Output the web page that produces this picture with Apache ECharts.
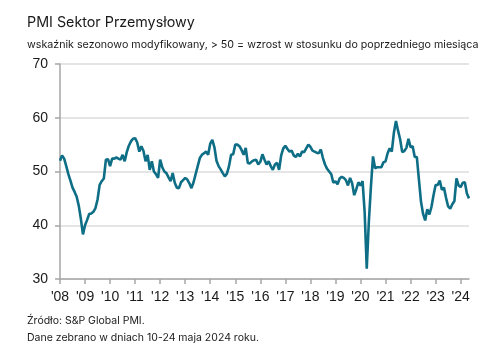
<!DOCTYPE html>
<html>
<head>
<meta charset="utf-8">
<script src="https://cdn.jsdelivr.net/npm/echarts@6/dist/echarts.min.js"></script>
<style>
  html, body { margin: 0; padding: 0; background: #fff; }
  #chart { width: 500px; height: 352px; }
</style>
</head>
<body>
<div id="chart"></div>
<script>
// PMI values, one array per year (Jan..Dec)
var pmi2008 = [52.0, 53.0, 52.4, 51.0, 49.5, 48.3, 47.0, 46.2, 45.3, 43.6, 41.2, 38.3];
var pmi2009 = [40.0, 41.0, 42.1, 42.2, 42.5, 43.2, 44.8, 47.5, 48.2, 48.7, 52.2, 52.3];
var pmi2010 = [51.0, 52.4, 52.4, 52.6, 52.4, 52.2, 53.1, 51.9, 53.6, 54.8, 55.6, 56.1];
var pmi2011 = [56.2, 55.4, 53.7, 54.7, 53.8, 51.9, 53.1, 50.3, 51.9, 50.0, 49.5, 48.8];
var pmi2012 = [52.2, 50.8, 50.0, 49.7, 48.9, 48.2, 49.7, 47.9, 47.0, 46.9, 48.0, 48.4];
var pmi2013 = [48.8, 48.5, 47.8, 46.9, 48.0, 49.5, 51.0, 52.5, 53.1, 53.4, 53.7, 53.1];
var pmi2014 = [55.2, 55.9, 54.5, 52.0, 51.0, 50.4, 49.7, 49.1, 49.6, 51.0, 53.1, 53.2];
var pmi2015 = [55.0, 55.0, 54.7, 54.0, 53.1, 54.4, 51.6, 51.5, 51.9, 52.1, 52.2, 51.3];
var pmi2016 = [51.8, 53.2, 52.2, 51.3, 51.9, 51.0, 50.3, 51.3, 51.6, 50.3, 53.0, 54.3];
var pmi2017 = [54.8, 54.2, 53.7, 53.9, 53.0, 52.7, 53.3, 52.8, 53.7, 53.6, 54.3, 55.0];
var pmi2018 = [54.6, 53.9, 53.7, 53.5, 53.4, 54.1, 52.5, 51.3, 50.5, 50.0, 49.5, 47.9];
var pmi2019 = [48.2, 47.6, 48.7, 49.0, 48.8, 48.4, 47.4, 48.8, 47.8, 45.6, 46.7, 48.0];
var pmi2020 = [47.4, 48.2, 42.4, 31.9, 40.6, 47.2, 52.8, 50.6, 50.8, 50.8, 50.8, 51.7];
var pmi2021 = [51.9, 53.4, 54.3, 53.7, 57.2, 59.4, 57.6, 56.0, 53.6, 53.8, 54.4, 56.1];
var pmi2022 = [54.5, 54.7, 52.7, 52.7, 48.5, 44.4, 42.1, 40.9, 43.0, 42.0, 43.4, 45.6];
var pmi2023 = [47.5, 47.5, 48.3, 46.6, 47.0, 45.1, 43.5, 43.1, 43.9, 44.5, 48.7, 47.4];
var pmi2024 = [47.1, 47.9, 48.0, 45.9, 45.0];

var years = [2008, 2009, 2010, 2011, 2012, 2013, 2014, 2015, 2016,
             2017, 2018, 2019, 2020, 2021, 2022, 2023, 2024];
var yTicks = [30, 40, 50, 60, 70];

var byYear = [pmi2008, pmi2009, pmi2010, pmi2011, pmi2012, pmi2013, pmi2014, pmi2015,
              pmi2016, pmi2017, pmi2018, pmi2019, pmi2020, pmi2021, pmi2022, pmi2023, pmi2024];

var months = [];
var values = [];
byYear.forEach(function (arr, i) {
  arr.forEach(function (v, j) {
    months.push(years[i] + "-" + (j < 9 ? "0" : "") + (j + 1));
    values.push(v);
  });
});

// only January gets a tick and a label
function isJan(index, value) {
  return value.slice(5) === "01";
}

var dom = document.getElementById("chart");
var myChart = echarts.init(dom, null, { renderer: "canvas" });

var textFont = "Inter, 'Liberation Sans', sans-serif";

var option = {
  animation: false,
  textStyle: { fontFamily: "'Liberation Sans', Arial, sans-serif" },
  title: [
    {
      text: "PMI Sektor Przemysłowy",
      left: 22,
      top: 11,
      textStyle: { fontFamily: textFont, fontSize: 14.3, fontWeight: "normal", color: "#1a1a1a" }
    },
    {
      text: "wskaźnik sezonowo modyfikowany, > 50 = wzrost w stosunku do poprzedniego miesiąca",
      left: 22,
      top: 34,
      textStyle: { fontFamily: textFont, fontSize: 10.7, fontWeight: "normal", color: "#1a1a1a" }
    },
    {
      text: "Źródło: S&P Global PMI.",
      left: 22,
      top: 310,
      textStyle: { fontFamily: textFont, fontSize: 10.5, fontWeight: "normal", color: "#1a1a1a" }
    },
    {
      text: "Dane zebrano w dniach 10-24 maja 2024 roku.",
      left: 22,
      top: 327,
      textStyle: { fontFamily: textFont, fontSize: 10.5, fontWeight: "normal", color: "#1a1a1a" }
    }
  ],
  grid: { left: 60, right: 31, top: 64, height: 215 },
  xAxis: {
    type: "category",
    data: months,
    boundaryGap: false,
    axisLine: { lineStyle: { color: "#a6a6a6", width: 1.5 } },
    axisTick: { interval: isJan, length: 5, lineStyle: { color: "#a6a6a6", width: 1.5 } },
    axisLabel: {
      interval: isJan,
      margin: 11,
      fontSize: 14,
      color: "#1a1a1a",
      formatter: function (v) { return "'" + v.slice(2, 4); }
    },
    splitLine: { show: false }
  },
  yAxis: {
    type: "value",
    min: yTicks[0],
    max: yTicks[yTicks.length - 1],
    interval: 10,
    axisLine: { show: true, lineStyle: { color: "#a6a6a6", width: 1.5 } },
    axisTick: { show: true, length: 5, lineStyle: { color: "#a6a6a6", width: 1.5 } },
    axisLabel: { margin: 12, fontSize: 14, color: "#1a1a1a" },
    splitLine: { lineStyle: { color: "#dcdcdc", width: 1.5 } }
  },
  series: [
    {
      type: "line",
      data: values,
      showSymbol: false,
      lineStyle: { color: "#0d6e86", width: 2.6 },
      itemStyle: { color: "#0d6e86" }
    }
  ]
};

myChart.setOption(option);
</script>
</body>
</html>
